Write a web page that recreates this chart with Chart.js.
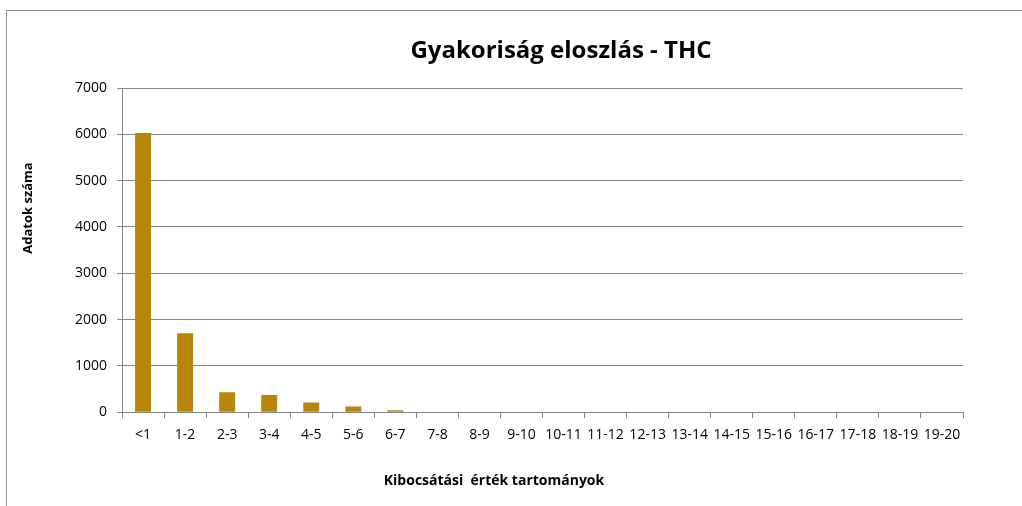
<!DOCTYPE html>
<html lang="hu">
<head>
    <meta charset="UTF-8">
    <title>Gyakoriság eloszlás - THC</title>
    <script src="https://cdn.jsdelivr.net/npm/chart.js"></script>
    <style>
        body {
            margin: 0;
            background: #fff;
            overflow: hidden;
            width: 1022px;
            height: 506px;
        }
        .frame {
            position: absolute;
            left: 6px;
            top: 10px;
            width: 1114px;
            height: 510px;
            border: 1px solid #8c8c8c;
            box-sizing: border-box;
        }
        canvas {
            display: block;
        }
    </style>
</head>
<body>
    <div class="frame">
        <canvas id="chart" width="1112" height="508"></canvas>
    </div>

    <script>
        // tartományok és darabszámok
        const categories = ['<1', '1-2', '2-3', '3-4', '4-5', '5-6', '6-7', '7-8', '8-9', '9-10',
            '10-11', '11-12', '12-13', '13-14', '14-15', '15-16', '16-17', '17-18', '18-19', '19-20'];
        const counts = [6030, 1705, 430, 370, 210, 125, 40, 0, 0, 0, 0, 0, 0, 0, 0, 0, 0, 0, 0, 0];
        const yTicks = [0, 1000, 2000, 3000, 4000, 5000, 6000, 7000];

        const font = "'Open Sans', 'Noto Sans', sans-serif";

        // cím és tengelycímek kézzel elhelyezve (Excel-szerű pozíció, canvas koordinátában)
        const chartTexts = {
            id: 'chartTexts',
            afterDraw(chart) {
                const c = chart.ctx;
                c.save();
                c.fillStyle = '#000';
                c.textAlign = 'center';
                c.textBaseline = 'middle';
                c.font = 'bold 24px ' + font;
                c.fillText('Gyakoriság eloszlás - THC', 554, 40);
                c.font = 'bold 14px ' + font;
                c.fillText('Kibocsátási  érték tartományok', 487, 470);
                c.font = 'bold 13px ' + font;
                c.translate(21, 197);
                c.rotate(-Math.PI / 2);
                c.fillText('Adatok száma', 0, 0);
                c.restore();
            }
        };

        const barFill = (context) => {
            const bar = context.element;
            const ctx = context.chart.ctx;
            if (!bar || !bar.width) return '#b8860b';
            const x0 = bar.x - bar.width / 2;
            const g = ctx.createLinearGradient(x0, 0, x0 + bar.width, 0);
            g.addColorStop(0, '#7a560a');
            g.addColorStop(0.2, '#b07f16');
            g.addColorStop(0.5, '#cf9d2a');
            g.addColorStop(0.8, '#b07f16');
            g.addColorStop(1, '#7a560a');
            return g;
        };

        new Chart(document.getElementById('chart'), {
            type: 'bar',
            data: {
                labels: categories,
                datasets: [{
                    label: 'Adatok száma',
                    data: counts,
                    backgroundColor: barFill,
                    borderWidth: 0,
                    barPercentage: 0.38,
                    categoryPercentage: 1.0
                }]
            },
            options: {
                responsive: false,
                animation: false,
                layout: {
                    padding: { left: 58, right: 156, top: 77, bottom: 68 }
                },
                plugins: {
                    legend: { display: false },
                    tooltip: { enabled: false },
                    title: { display: false }
                },
                scales: {
                    x: {
                        grid: {
                            offset: true,
                            drawOnChartArea: false,
                            color: '#868686',
                            tickLength: 6
                        },
                        border: { color: '#868686' },
                        ticks: {
                            color: '#000',
                            font: { family: font, size: 14 },
                            maxRotation: 0,
                            autoSkip: false,
                            padding: 8
                        }
                    },
                    y: {
                        min: 0,
                        max: 7000,
                        afterBuildTicks: (axis) => {
                            axis.ticks = yTicks.map(v => ({ value: v }));
                        },
                        grid: {
                            color: '#868686',
                            tickLength: 5
                        },
                        border: { color: '#868686' },
                        ticks: {
                            color: '#000',
                            font: { family: font, size: 14 },
                            padding: 10,
                            callback: (v) => String(v)
                        }
                    }
                }
            },
            plugins: [chartTexts]
        });
    </script>
</body>
</html>
